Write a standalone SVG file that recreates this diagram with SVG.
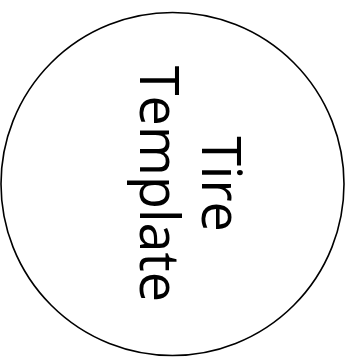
<svg xmlns="http://www.w3.org/2000/svg" width="351" height="360" viewBox="0 0 351 360">
<style>
.node-shape{fill:#ffffff;stroke:#000000;stroke-width:1.6}
.label{font-family:"Open Sans","Noto Sans",sans-serif;font-size:54px;fill:#000000;text-anchor:middle}
</style>
<rect width="351" height="360" fill="#ffffff"/>
<g id="connectors"></g>
<g id="tire-template">
<circle class="node-shape" cx="172.5" cy="184" r="171.5"/>
<g transform="translate(172,184) rotate(90)">
<text class="label" x="0" y="-30">Tire</text>
<text class="label" x="0" y="32">Template</text>
</g>
</g>
</svg>
